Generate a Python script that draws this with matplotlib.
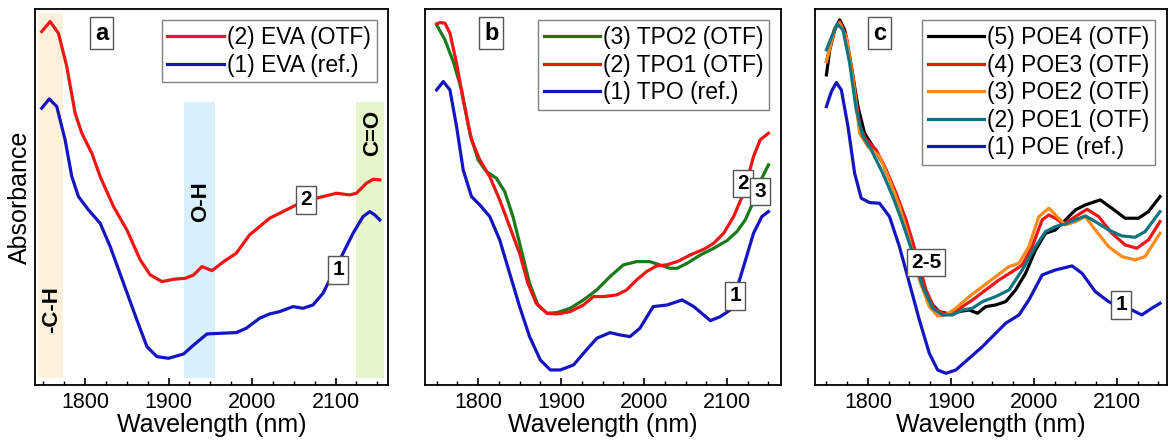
import matplotlib
matplotlib.use("Agg")
import matplotlib.pyplot as plt
from matplotlib.ticker import MultipleLocator

plt.rcParams['font.family'] = ['Liberation Sans', 'DejaVu Sans']

# panel a - EVA
eva_ref_x = [1748, 1757, 1766, 1776, 1784, 1792, 1804, 1818, 1830, 1846, 1862, 1874, 1886, 1900, 1918, 1930, 1946,
             1962, 1981, 1993, 2009, 2021, 2033, 2049, 2061, 2073, 2085, 2097, 2109, 2121, 2133, 2141, 2147, 2153]
eva_ref_y = [0.830, 0.858, 0.835, 0.735, 0.625, 0.565, 0.525, 0.485, 0.415, 0.305, 0.195, 0.115, 0.085, 0.080,
             0.093, 0.120, 0.153, 0.155, 0.157, 0.170, 0.200, 0.213, 0.220, 0.235, 0.230, 0.240, 0.275, 0.335,
             0.395, 0.455, 0.505, 0.520, 0.510, 0.495]
eva_otf_x = [1748, 1758, 1768, 1778, 1788, 1796, 1808, 1818, 1834, 1850, 1866, 1878, 1892, 1906, 1920, 1930, 1940,
             1952, 1966, 1981, 1997, 2009, 2021, 2037, 2053, 2069, 2085, 2101, 2117, 2125, 2137, 2145, 2153]
eva_otf_y = [1.060, 1.090, 1.055, 0.955, 0.815, 0.755, 0.695, 0.625, 0.535, 0.465, 0.375, 0.330, 0.310, 0.317,
             0.320, 0.330, 0.355, 0.343, 0.370, 0.395, 0.450, 0.475, 0.500, 0.520, 0.540, 0.555, 0.565, 0.575,
             0.570, 0.575, 0.605, 0.617, 0.615]

# panel b - TPO
tpo_ref_x = [1750, 1758, 1766, 1774, 1782, 1792, 1802, 1814, 1826, 1838, 1850, 1862, 1875, 1887, 1899, 1915, 1927,
             1943, 1959, 1971, 1983, 1995, 2011, 2028, 2046, 2060, 2080, 2092, 2104, 2120, 2132, 2142, 2150]
tpo_ref_y = [0.885, 0.910, 0.885, 0.775, 0.645, 0.565, 0.540, 0.505, 0.435, 0.335, 0.235, 0.145, 0.075, 0.045,
             0.045, 0.060, 0.095, 0.140, 0.157, 0.150, 0.145, 0.170, 0.235, 0.240, 0.255, 0.235, 0.193, 0.205,
             0.225, 0.355, 0.455, 0.505, 0.520]
tpo1_x = [1750, 1754, 1760, 1766, 1774, 1782, 1792, 1802, 1814, 1826, 1838, 1850, 1860, 1870, 1883, 1895, 1911,
          1927, 1939, 1951, 1967, 1979, 1991, 2003, 2015, 2027, 2040, 2056, 2072, 2084, 2096, 2108, 2120, 2132,
          2140, 2150]
tpo1_y = [1.083, 1.087, 1.085, 1.055, 0.965, 0.855, 0.735, 0.675, 0.625, 0.555, 0.475, 0.395, 0.305, 0.245, 0.215,
          0.213, 0.220, 0.240, 0.265, 0.265, 0.270, 0.285, 0.315, 0.340, 0.357, 0.360, 0.370, 0.390, 0.407, 0.425,
          0.455, 0.505, 0.575, 0.685, 0.735, 0.755]
tpo2_x = [1750, 1760, 1770, 1780, 1790, 1800, 1810, 1822, 1832, 1842, 1852, 1862, 1872, 1883, 1895, 1911, 1927,
          1943, 1959, 1975, 1991, 2007, 2019, 2031, 2040, 2052, 2068, 2084, 2100, 2112, 2122, 2132, 2140, 2150]
tpo2_y = [1.080, 1.035, 0.970, 0.885, 0.755, 0.675, 0.640, 0.620, 0.580, 0.505, 0.405, 0.305, 0.240, 0.215, 0.217,
          0.230, 0.255, 0.285, 0.325, 0.360, 0.370, 0.370, 0.360, 0.350, 0.350, 0.365, 0.390, 0.410, 0.433, 0.460,
          0.495, 0.550, 0.610, 0.660]

# panel c - POE
poe_ref_x = [1750, 1756, 1762, 1768, 1776, 1784, 1792, 1802, 1814, 1826, 1838, 1850, 1862, 1874, 1884, 1894, 1906,
             1922, 1938, 1954, 1966, 1982, 1994, 2010, 2026, 2046, 2058, 2074, 2090, 2106, 2118, 2130, 2142, 2152]
poe_ref_y = [0.835, 0.880, 0.907, 0.885, 0.775, 0.635, 0.560, 0.547, 0.545, 0.505, 0.415, 0.305, 0.195, 0.095,
             0.045, 0.035, 0.045, 0.080, 0.115, 0.155, 0.185, 0.210, 0.255, 0.330, 0.345, 0.357, 0.335, 0.280,
             0.250, 0.230, 0.225, 0.210, 0.230, 0.245]
poe1_x = [1750, 1758, 1763, 1770, 1778, 1786, 1794, 1804, 1818, 1830, 1842, 1854, 1866, 1878, 1890, 1902, 1914,
          1926, 1938, 1954, 1970, 1986, 2002, 2014, 2026, 2038, 2050, 2062, 2074, 2090, 2106, 2122, 2134, 2152]
poe1_y = [1.005, 1.055, 1.083, 1.065, 0.965, 0.825, 0.745, 0.705, 0.635, 0.565, 0.485, 0.395, 0.295, 0.230, 0.210,
          0.210, 0.225, 0.230, 0.250, 0.265, 0.285, 0.345, 0.415, 0.460, 0.475, 0.483, 0.495, 0.507, 0.490, 0.465,
          0.447, 0.443, 0.460, 0.520]
poe2_x = [1750, 1760, 1766, 1774, 1782, 1790, 1800, 1814, 1826, 1838, 1850, 1862, 1874, 1884, 1894, 1906, 1922,
          1938, 1954, 1970, 1982, 1994, 2006, 2018, 2028, 2038, 2050, 2062, 2074, 2090, 2106, 2122, 2134, 2152]
poe2_y = [0.970, 1.070, 1.085, 1.040, 0.915, 0.755, 0.715, 0.685, 0.615, 0.535, 0.435, 0.315, 0.235, 0.207, 0.210,
          0.230, 0.265, 0.295, 0.325, 0.355, 0.365, 0.415, 0.505, 0.530, 0.505, 0.480, 0.490, 0.505, 0.465, 0.415,
          0.385, 0.375, 0.385, 0.455]
poe3_x = [1750, 1760, 1766, 1774, 1782, 1790, 1798, 1810, 1822, 1834, 1846, 1858, 1870, 1880, 1892, 1902, 1914,
          1926, 1942, 1958, 1974, 1986, 1998, 2010, 2018, 2026, 2036, 2050, 2064, 2078, 2094, 2110, 2124, 2138, 2152]
poe3_y = [0.970, 1.070, 1.090, 1.045, 0.925, 0.775, 0.735, 0.705, 0.645, 0.575, 0.495, 0.395, 0.285, 0.230, 0.213,
          0.215, 0.235, 0.255, 0.285, 0.315, 0.340, 0.360, 0.415, 0.495, 0.510, 0.500, 0.483, 0.505, 0.527, 0.505,
          0.455, 0.420, 0.410, 0.435, 0.490]
poe4_x = [1750, 1754, 1760, 1766, 1772, 1780, 1788, 1796, 1806, 1818, 1830, 1842, 1854, 1866, 1876, 1886, 1898,
          1910, 1922, 1932, 1942, 1954, 1966, 1978, 1990, 2002, 2014, 2026, 2038, 2050, 2062, 2080, 2094, 2110,
          2126, 2138, 2152]
poe4_y = [0.930, 1.005, 1.065, 1.095, 1.065, 0.955, 0.835, 0.755, 0.715, 0.665, 0.595, 0.515, 0.425, 0.305, 0.245,
          0.220, 0.213, 0.220, 0.225, 0.215, 0.235, 0.240, 0.250, 0.285, 0.335, 0.405, 0.455, 0.465, 0.495, 0.525,
          0.540, 0.555, 0.530, 0.500, 0.500, 0.520, 0.565]

# absorption bands in panel a: (start, end, top, colour, label)
bands = [(1744, 1774, 1.115, '#fdf1dc', '-C-H'),
         (1919, 1955, 0.850, '#d8effc', 'O-H'),
         (2125, 2158, 0.850, '#e6f5cc', 'C=O')]

RED = '#f01515'
BLUE = '#1414c0'
LW = 2.3

fig = plt.figure(figsize=(11.69, 4.43), dpi=100)
axa = fig.add_axes([0.030, 0.131, 0.302, 0.849])
axb = fig.add_axes([0.3636, 0.131, 0.3044, 0.849])
axc = fig.add_axes([0.697, 0.131, 0.301, 0.849])

box = dict(boxstyle='square,pad=0.2', facecolor='white', edgecolor='#555555', linewidth=1)


def style(ax, xlim):
    ax.set_xlim(*xlim)
    ax.set_ylim(0, 1.128)
    ax.set_yticks([])
    ax.xaxis.set_major_locator(MultipleLocator(100))
    ax.xaxis.set_minor_locator(MultipleLocator(25))
    ax.tick_params(axis='x', which='major', direction='in', length=5, width=1.2, labelsize=15.5, pad=5)
    ax.tick_params(axis='x', which='minor', direction='in', length=3, width=1.0)
    for s in ax.spines.values():
        s.set_linewidth(1.3)
    ax.set_xlabel('Wavelength (nm)', fontsize=18, labelpad=0)


def leg(ax):
    ax.legend(loc='upper right', fontsize=16.5, handlelength=2.45, handletextpad=0.15, labelspacing=0.2,
              borderpad=0.25, borderaxespad=0.5, fancybox=False, edgecolor='#808080', framealpha=1)


# panel a
for x0, x1, top, col, lab in bands:
    axa.fill_between([x0, x1], 0.02, top, color=col, linewidth=0, zorder=0)
axa.plot(eva_otf_x, eva_otf_y, color=RED, lw=LW, label='(2) EVA (OTF)')
axa.plot(eva_ref_x, eva_ref_y, color=BLUE, lw=LW, label='(1) EVA (ref.)')
style(axa, (1740, 2163))
axa.set_ylabel('Absorbance', fontsize=18, labelpad=2)
leg(axa)
axa.text(1760, 0.225, '-C-H', rotation=90, fontsize=16, fontweight='bold', ha='center', va='center')
axa.text(1938, 0.550, 'O-H', rotation=90, fontsize=16, fontweight='bold', ha='center', va='center')
axa.text(2144, 0.755, 'C=O', rotation=90, fontsize=16, fontweight='bold', ha='center', va='center')
axa.text(1820, 1.055, 'a', fontsize=17, fontweight='bold', ha='center', va='center', bbox=box)
axa.text(2065, 0.555, '2', fontsize=15, fontweight='bold', ha='center', va='center', bbox=box)
axa.text(2103, 0.345, '1', fontsize=15, fontweight='bold', ha='center', va='center', bbox=box)

# panel b
axb.plot(tpo2_x, tpo2_y, color='#1a7a1a', lw=LW, label='(3) TPO2 (OTF)')
axb.plot(tpo1_x, tpo1_y, color=RED, lw=LW, label='(2) TPO1 (OTF)')
axb.plot(tpo_ref_x, tpo_ref_y, color=BLUE, lw=LW, label='(1) TPO (ref.)')
style(axb, (1736, 2165))
leg(axb)
axb.text(1816, 1.055, 'b', fontsize=17, fontweight='bold', ha='center', va='center', bbox=box)
axb.text(2119, 0.605, '2', fontsize=15, fontweight='bold', ha='center', va='center', bbox=box)
axb.text(2140, 0.580, '3', fontsize=15, fontweight='bold', ha='center', va='center', bbox=box)
axb.text(2110, 0.267, '1', fontsize=15, fontweight='bold', ha='center', va='center', bbox=box)

# panel c
axc.plot(poe4_x, poe4_y, color='black', lw=LW, label='(5) POE4 (OTF)')
axc.plot(poe3_x, poe3_y, color=RED, lw=LW, label='(4) POE3 (OTF)')
axc.plot(poe2_x, poe2_y, color='#ff8a1a', lw=LW, label='(3) POE2 (OTF)')
axc.plot(poe1_x, poe1_y, color='#0f7580', lw=LW, label='(2) POE1 (OTF)')
axc.plot(poe_ref_x, poe_ref_y, color=BLUE, lw=LW, label='(1) POE (ref.)')
style(axc, (1736, 2160))
leg(axc)
axc.text(1814, 1.055, 'c', fontsize=17, fontweight='bold', ha='center', va='center', bbox=box)
axc.text(1870, 0.368, '2-5', fontsize=15, fontweight='bold', ha='center', va='center', bbox=box)
axc.text(2105, 0.240, '1', fontsize=15, fontweight='bold', ha='center', va='center', bbox=box)

fig.savefig('out.png', dpi=100)
